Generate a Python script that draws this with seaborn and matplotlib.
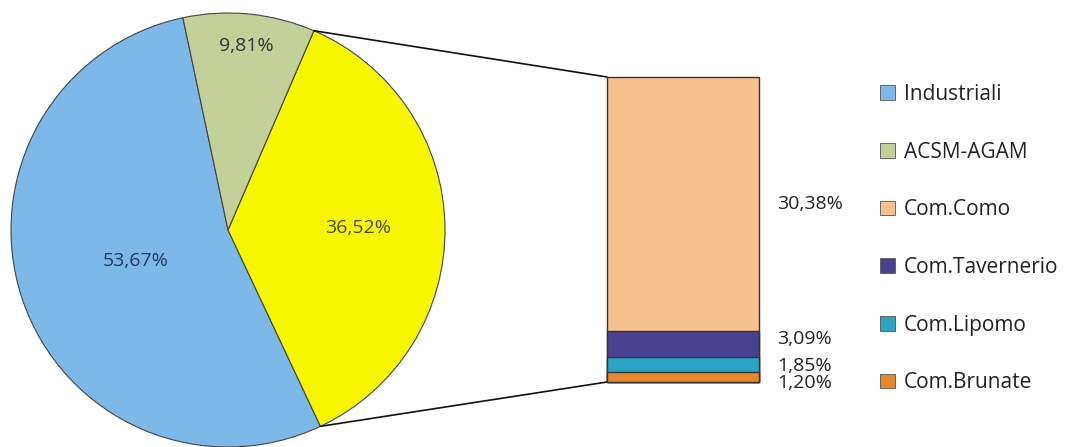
import numpy as np
import pandas as pd
import seaborn as sns
import matplotlib.pyplot as plt
from matplotlib.patches import Patch, ConnectionPatch

sns.set_theme(style="white")
plt.rcParams['font.family'] = ['Open Sans', 'DejaVu Sans']

# dati (percentuali)
categorie = ["Industriali", "ACSM-AGAM", "Com.Como", "Com.Tavernerio", "Com.Lipomo", "Com.Brunate"]
industriali = 53.67
acsm = 9.81
comuni = ["Com.Como", "Com.Tavernerio", "Com.Lipomo", "Com.Brunate"]
quote_comuni = [30.38, 3.09, 1.85, 1.20]

colori = {
    "Industriali": "#7db9e8",
    "ACSM-AGAM": "#c3d09a",
    "Comuni": "#f7f700",
    "Com.Como": "#f8c08d",
    "Com.Tavernerio": "#4a4190",
    "Com.Lipomo": "#2aa3c5",
    "Com.Brunate": "#e5892a",
}

totale_comuni = sum(quote_comuni)

fig = plt.figure(figsize=(10.72, 4.47), dpi=100)

# torta
ax1 = fig.add_axes([11 / 1072, 0, 434 / 1072, 434 / 447])
valori_torta = [industriali, totale_comuni, acsm]
colori_torta = [colori["Industriali"], colori["Comuni"], colori["ACSM-AGAM"]]
wedges, _, autotexts = ax1.pie(
    valori_torta, colors=colori_torta, startangle=102,
    autopct=lambda p: ("%.2f%%" % p).replace(".", ","),
    wedgeprops=dict(edgecolor="#444444", linewidth=0.8),
    textprops=dict(fontsize=14),
)
ax1.set_xlim(-1, 1)
ax1.set_ylim(-1, 1)
ax1.set_aspect("equal")

raggi_etichette = [0.45, 0.6, 0.85]
colori_etichette = ["#1f3a60", "#4a4a20", "#333333"]
for t, w, r, c in zip(autotexts, wedges, raggi_etichette, colori_etichette):
    ang = np.deg2rad((w.theta1 + w.theta2) / 2)
    t.set_position((r * np.cos(ang), r * np.sin(ang)))
    t.set_color(c)

# barra impilata dei comuni
ax2 = fig.add_axes([607 / 1072, 65 / 447, 152 / 1072, 305 / 447])
df = pd.DataFrame({"comune": comuni, "quota": quote_comuni})
df["cumulata"] = df["quota"][::-1].cumsum()[::-1]
for _, row in df.iterrows():
    sns.barplot(x=[0], y=[row["cumulata"]], color=colori[row["comune"]],
                saturation=1, width=0.8, edgecolor="#333333", linewidth=1, ax=ax2)
for p in ax2.patches:
    p.set_clip_on(False)
ax2.set_xlim(-0.4, 0.4)
ax2.set_ylim(0, totale_comuni)
ax2.set_axis_off()

spost_y = [0, 5, -2, -6]
for (_, row), dy in zip(df.iterrows(), spost_y):
    mid = row["cumulata"] - row["quota"] / 2
    ax2.annotate(("%.2f%%" % row["quota"]).replace(".", ","), xy=(0.4, mid),
                 xytext=(18, dy), textcoords="offset pixels",
                 va="center", ha="left", fontsize=14, color="#222222")

# linee di collegamento
giallo = wedges[1]
for theta, yb in [(giallo.theta2, totale_comuni), (giallo.theta1, 0)]:
    a = np.deg2rad(theta)
    con = ConnectionPatch(xyA=(np.cos(a), np.sin(a)), coordsA=ax1.transData,
                          xyB=(-0.4, yb), coordsB=ax2.transData,
                          color="#111111", linewidth=1.2)
    fig.add_artist(con)

# legenda
handles = [Patch(facecolor=colori[c], edgecolor="#555555", linewidth=0.6) for c in categorie]
fig.legend(handles, categorie, loc="upper left",
           bbox_to_anchor=(880 / 1072, 1 - 84 / 447), frameon=False,
           fontsize=15, labelspacing=1.76, handlelength=0.7, handleheight=0.7,
           handletextpad=0.45, borderpad=0, borderaxespad=0, labelcolor="#222222")

fig.savefig("out.png", dpi=100)
